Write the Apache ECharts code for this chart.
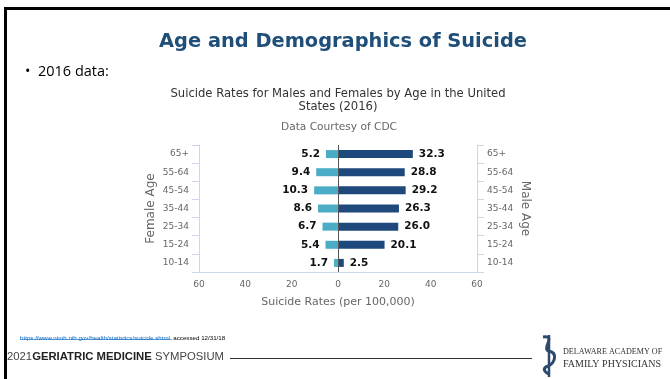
<!DOCTYPE html>
<html><head><meta charset="utf-8">
<script src="https://cdn.jsdelivr.net/npm/echarts@6/dist/echarts.min.js"></script>
<style>html,body{margin:0;padding:0;background:#fff}#c{width:670px;height:379px}</style>
</head><body><div id="c"></div>
<script>
const ageGroups = ['10-14','15-24','25-34','35-44','45-54','55-64','65+'];
const femaleRates = [1.7, 5.4, 6.7, 8.6, 10.3, 9.4, 5.2];
const maleRates = [2.5, 20.1, 26.0, 26.3, 29.2, 28.8, 32.3];
const rateMin = -60, rateMax = 60, rateStep = 20;

const chart = echarts.init(document.getElementById('c'), null, {renderer: 'canvas'});
const F = 'DejaVu Sans';
const axisBlue = '#ccd6eb';

function yAxisDef(pos, name) {
  return {
    type: 'category', data: ageGroups, position: pos,
    name: name, nameLocation: 'middle', nameGap: 42, nameRotate: pos === 'left' ? 90 : -90,
    nameTextStyle: {color: '#666', fontSize: 12, fontFamily: F},
    axisLine: {show: true, onZero: false, lineStyle: {color: axisBlue}},
    axisTick: {show: true, length: 7, lineStyle: {color: axisBlue}},
    axisLabel: {color: '#666', fontSize: 9, fontFamily: F, margin: 10},
    splitLine: {show: false}
  };
}

const snake = {stroke: '#2d4a6e', lineWidth: 3, fill: null};

chart.setOption({
  animation: false,
  textStyle: {fontFamily: F},
  title: [
    {text: 'Age and Demographics of Suicide', left: 343, top: 32, textAlign: 'center', padding: 0,
     textStyle: {fontSize: 19.4, fontWeight: 'bold', color: '#1f4e79', fontFamily: F}},
    {text: 'Suicide Rates for Males and Females by Age in the United\nStates (2016)', left: 338, top: 88, textAlign: 'center', padding: 0,
     textStyle: {fontSize: 11.6, fontWeight: 'normal', color: '#333', fontFamily: F, lineHeight: 12.5}},
    {text: 'Data Courtesy of CDC', left: 339, top: 122, textAlign: 'center', padding: 0,
     textStyle: {fontSize: 10.6, fontWeight: 'normal', color: '#666', fontFamily: F}}
  ],
  grid: {left: 199, top: 145, width: 278, height: 127, containLabel: false},
  xAxis: {
    type: 'value', min: rateMin, max: rateMax, interval: rateStep,
    name: 'Suicide Rates (per 100,000)', nameLocation: 'middle', nameGap: 25,
    nameTextStyle: {color: '#666', fontSize: 11, fontFamily: F},
    axisLine: {show: true, onZero: false, lineStyle: {color: axisBlue}},
    axisTick: {show: false},
    axisLabel: {color: '#666', fontSize: 9, fontFamily: F, margin: 8,
      formatter: v => String(Math.abs(v))},
    splitLine: {show: false}
  },
  yAxis: [yAxisDef('left', 'Female Age'), yAxisDef('right', 'Male Age')],
  series: [
    {name: 'Female', type: 'bar', yAxisIndex: 0, stack: 'rates', barWidth: 8,
     data: femaleRates.map(v => -v),
     itemStyle: {color: '#4bacc6'},
     label: {show: true, position: 'left', distance: 6, color: '#111', fontWeight: 'bold', fontSize: 10.5, fontFamily: F,
       formatter: p => Math.abs(p.value).toFixed(1)}},
    {name: 'Male', type: 'bar', yAxisIndex: 0, stack: 'rates', barWidth: 8,
     data: maleRates,
     itemStyle: {color: '#1f497d'},
     label: {show: true, position: 'right', distance: 6, color: '#111', fontWeight: 'bold', fontSize: 10.5, fontFamily: F,
       formatter: p => p.value.toFixed(1)},
     markLine: {silent: true, symbol: 'none', label: {show: false},
       lineStyle: {color: '#555', width: 1, type: 'solid'},
       data: [{xAxis: 0}]}}
  ],
  graphic: [
    {type: 'rect', shape: {x: 4, y: 7, width: 666, height: 3}, style: {fill: '#000'}},
    {type: 'rect', shape: {x: 4, y: 7, width: 3, height: 372}, style: {fill: '#000'}},
    {type: 'text', x: 25, y: 64, style: {text: '•  2016 data:', font: '14.5px "Open Sans"', fill: '#000'}},
    {type: 'text', x: 20, y: 332, style: {
      text: '{a|https://www.nimh.nih.gov/health/statistics/suicide.shtml} {b|accessed 12/31/18}',
      rich: {a: {fontSize: 6.2, fontFamily: 'Liberation Sans', fill: '#0563c1'},
             b: {fontSize: 6.2, fontFamily: 'Liberation Sans', fill: '#000'}}}},
    {type: 'line', shape: {x1: 20, y1: 339.5, x2: 172, y2: 339.5}, style: {stroke: '#0563c1', lineWidth: 0.6}},
    {type: 'text', x: 7, y: 351, style: {
      text: '{a|2021}{b|GERIATRIC MEDICINE}{a| SYMPOSIUM}',
      rich: {a: {fontSize: 11.3, fontFamily: 'Liberation Sans', fill: '#444'},
             b: {fontSize: 11.3, fontFamily: 'Liberation Sans', fontWeight: 'bold', fill: '#222'}}}},
    {type: 'line', shape: {x1: 230, y1: 358.5, x2: 532, y2: 358.5}, style: {stroke: '#333', lineWidth: 1}},
    {type: 'line', shape: {x1: 549, y1: 335, x2: 549, y2: 377}, style: {stroke: '#2d4a6e', lineWidth: 2.5}},
    {type: 'bezierCurve', shape: {x1: 543, y1: 337, cpx1: 557, cpy1: 335, cpx2: 541, cpy2: 349, x2: 549, y2: 351}, style: snake},
    {type: 'bezierCurve', shape: {x1: 549, y1: 351, cpx1: 558, cpy1: 353, cpx2: 555, cpy2: 363, x2: 548, y2: 366}, style: snake},
    {type: 'bezierCurve', shape: {x1: 548, y1: 366, cpx1: 542, cpy1: 368, cpx2: 544, cpy2: 372, x2: 549, y2: 374}, style: snake},
    {type: 'text', x: 563, y: 348, style: {text: 'DELAWARE ACADEMY OF', font: '8.1px "Liberation Serif"', fill: '#333'}},
    {type: 'text', x: 563, y: 359, style: {text: 'FAMILY PHYSICIANS', font: '10px "Liberation Serif"', fill: '#333'}}
  ]
});
</script></body></html>
